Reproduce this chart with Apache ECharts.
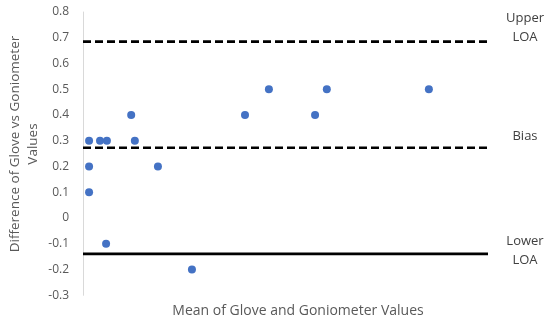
<!DOCTYPE html>
<html><head><meta charset="utf-8">
<script src="https://cdn.jsdelivr.net/npm/echarts@6/dist/echarts.min.js"></script>
<style>html,body{margin:0;padding:0;background:#fff}#c{width:550px;height:323px}</style>
</head><body><div id="c"></div>
<script>
const meanValues = [1.5, 1.5, 1.5, 4.2, 5.9, 5.7, 11.9, 12.8, 18.5, 26.9, 40.0, 45.9, 57.3, 60.2, 85.4];
const diffValues = [0.3, 0.2, 0.1, 0.3, 0.3, -0.1, 0.4, 0.3, 0.2, -0.2, 0.4, 0.5, 0.4, 0.5, 0.5];
const upperLOA = 0.685;
const bias = 0.273;
const lowerLOA = -0.139;
const xRange = [0, 100];
const yTicks = [-0.3, -0.2, -0.1, 0, 0.1, 0.2, 0.3, 0.4, 0.5, 0.6, 0.7, 0.8];

const font = '"Open Sans", "Noto Sans", sans-serif';
const chart = echarts.init(document.getElementById('c'));
function hline(v, dashed, label, off) {
  return {
    type: 'line', data: [[xRange[0], v], [xRange[1], v]], symbol: 'none', silent: true,
    lineStyle: { color: '#000', width: 2.6, type: dashed ? [8, 4] : 'solid' },
    endLabel: { show: true, formatter: label, color: '#404040', fontFamily: font, fontSize: 13,
      align: 'center', distance: 37, offset: [0, off], lineHeight: 19 },
    z: 1
  };
}
chart.setOption({
  animation: false,
  grid: { left: 83, right: 62, top: 12, bottom: 27.7 },
  xAxis: { type: 'value', min: xRange[0], max: xRange[1], axisLine: { show: false }, axisTick: { show: false },
    axisLabel: { show: false }, splitLine: { show: false } },
  yAxis: { type: 'value', min: yTicks[0], max: yTicks[yTicks.length - 1], interval: 0.1,
    axisLine: { show: true, onZero: false, lineStyle: { color: '#d9d9d9', width: 1 } }, axisTick: { show: false },
    splitLine: { show: false },
    axisLabel: { color: '#595959', fontFamily: font, fontSize: 12, margin: 14,
      formatter: v => { const r = Math.round(v * 10) / 10; return String(r); } } },
  graphic: [
    { type: 'text', x: 24, y: 144, rotation: Math.PI / 2,
      style: { text: 'Difference of Glove vs Goniometer\nValues', fill: '#595959', font: '13.5px ' + font,
        align: 'center', verticalAlign: 'middle', lineHeight: 18 } },
    { type: 'text', x: 298, y: 311,
      style: { text: 'Mean of Glove and Goniometer Values', fill: '#595959', font: '14px ' + font,
        align: 'center', verticalAlign: 'middle' } }
  ],
  series: [
    hline(upperLOA, true, 'Upper\nLOA', -14),
    hline(bias, true, 'Bias', -11),
    hline(lowerLOA, false, 'Lower\nLOA', -3),
    { type: 'scatter', data: meanValues.map((m, i) => [m, diffValues[i]]), symbolSize: 8,
      itemStyle: { color: '#4472C4', opacity: 1 }, z: 3 }
  ]
});
</script></body></html>
